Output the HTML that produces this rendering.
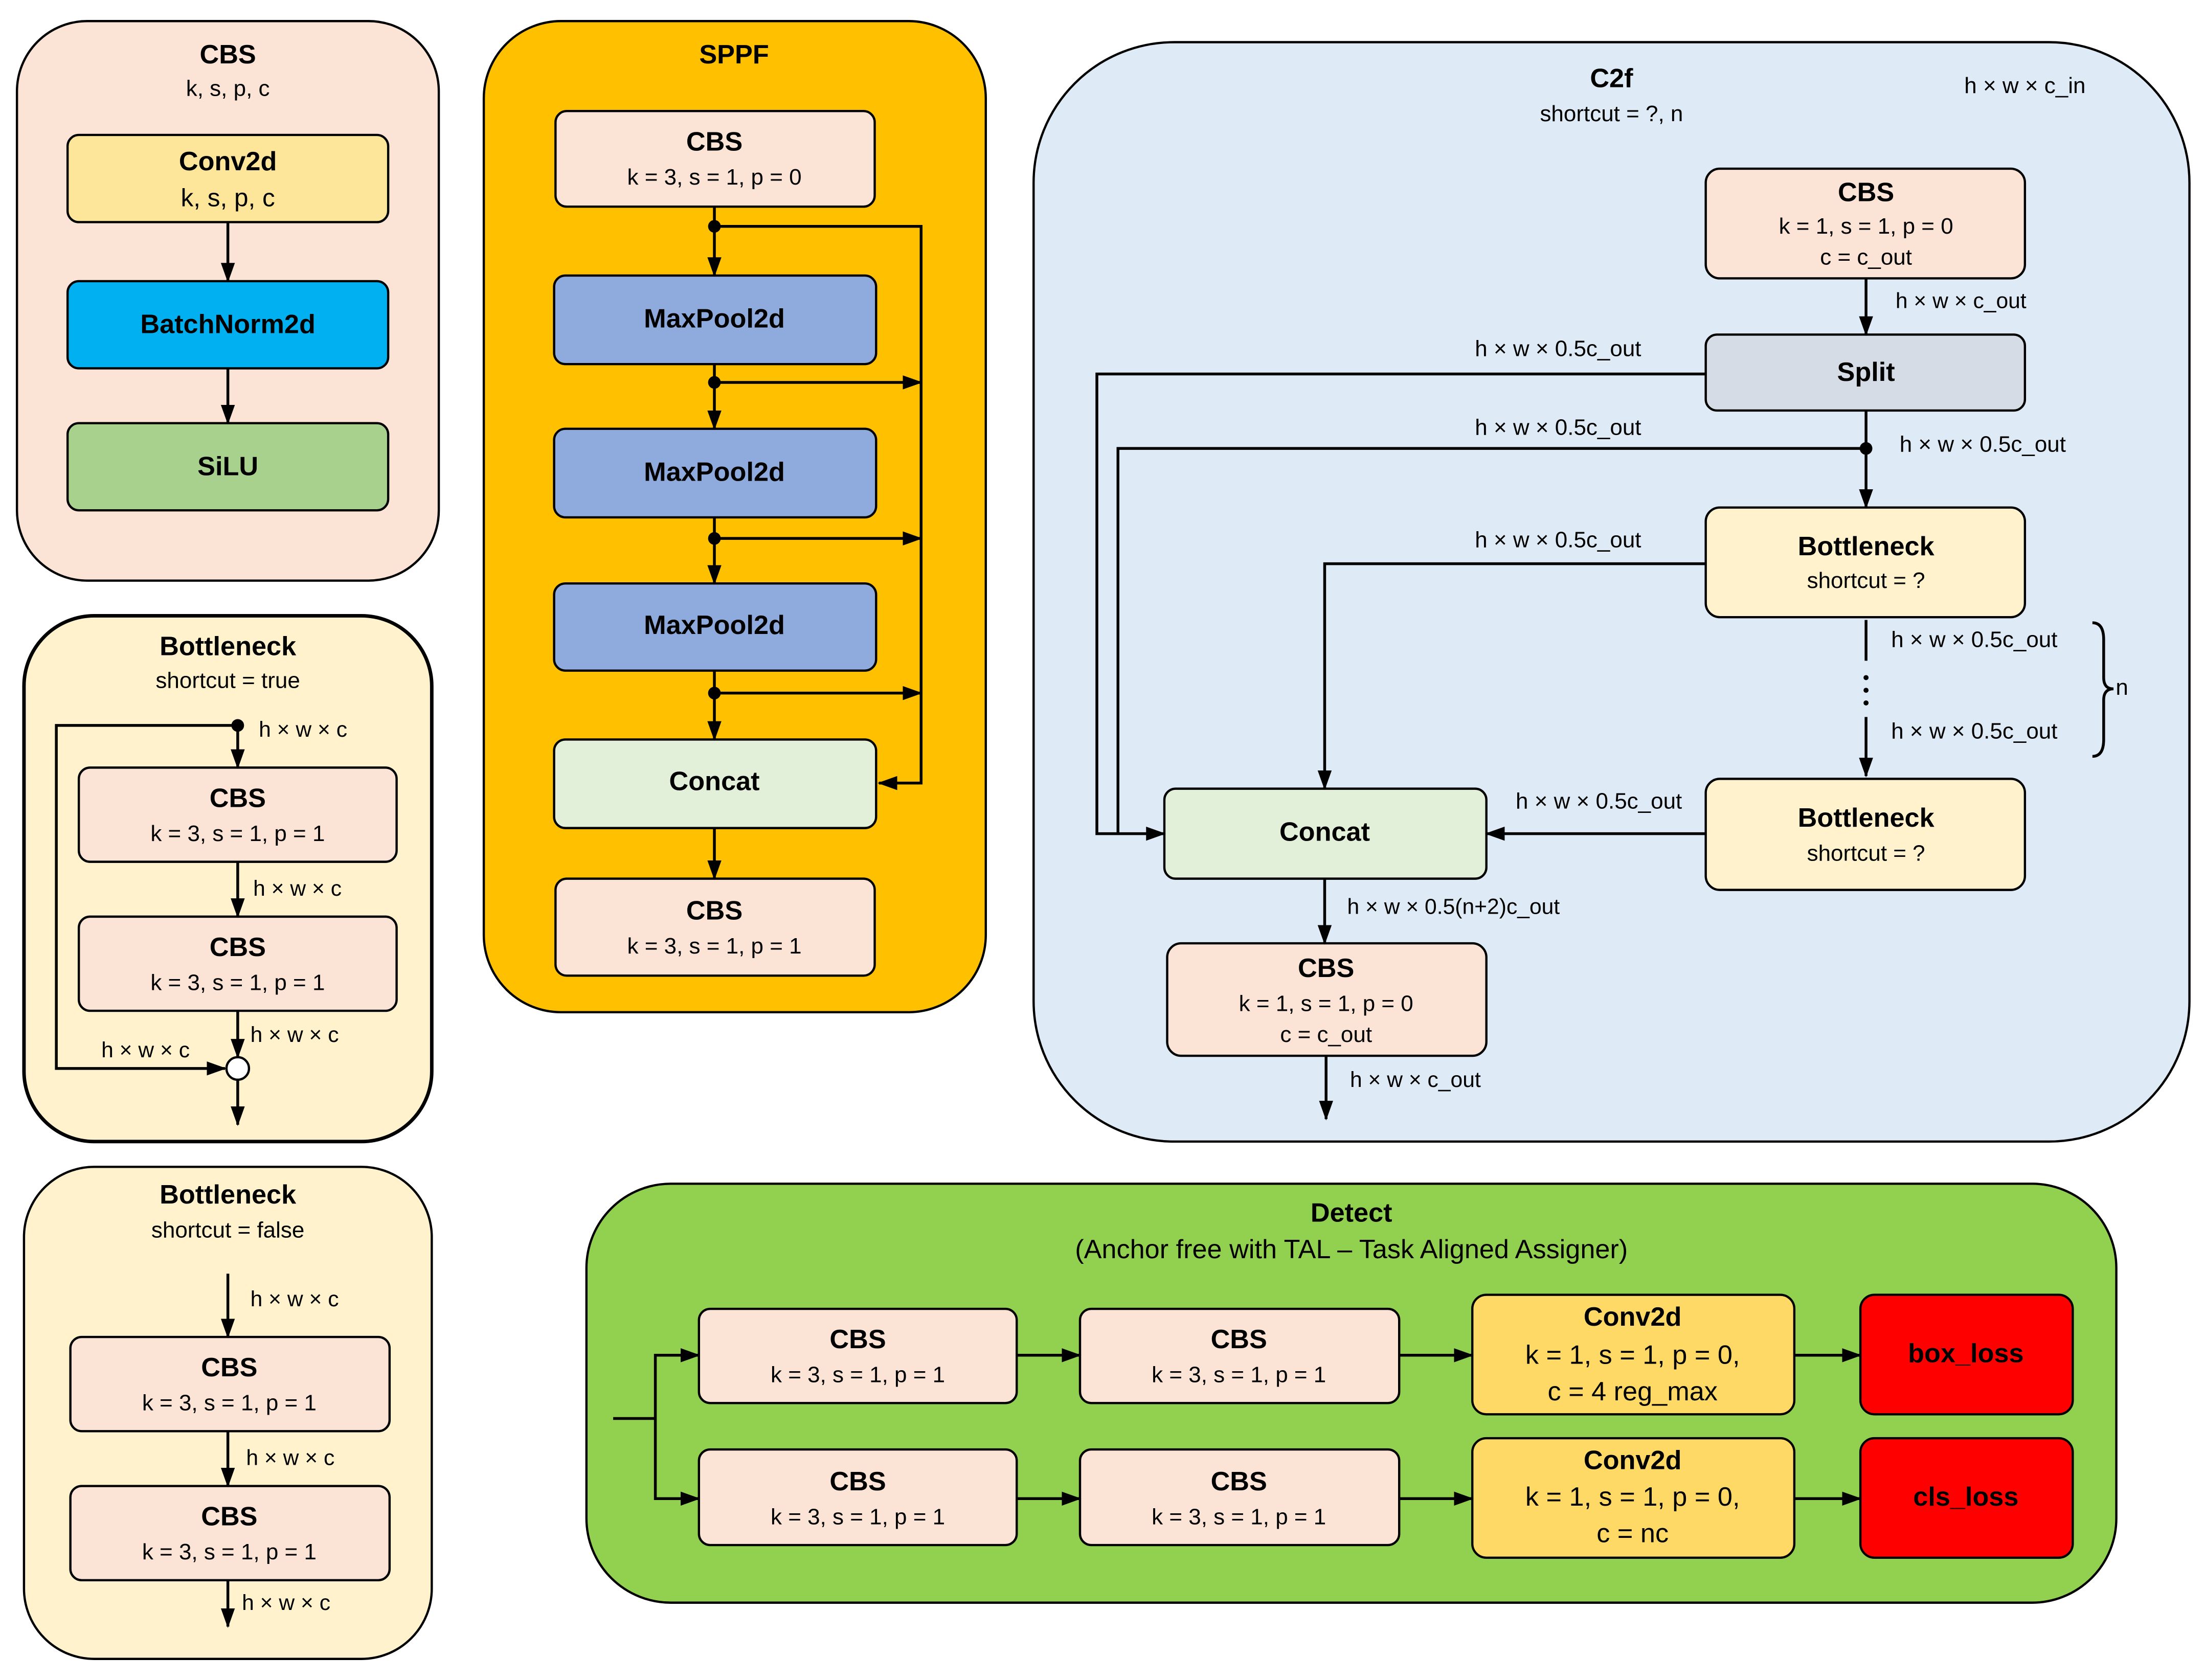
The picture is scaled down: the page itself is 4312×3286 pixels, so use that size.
<!DOCTYPE html>
<html><head><meta charset="utf-8"><style>
html,body{margin:0;padding:0;background:#fff;}
svg{display:block;}
text{font-family:"Liberation Sans",sans-serif;fill:#000;text-anchor:middle;dominant-baseline:middle;}
.b{font-weight:bold;font-size:19px;}
.t{font-size:16px;}
.l{font-size:15.5px;text-anchor:start;}
.box{stroke:#000;stroke-width:1.6;}
.ln{stroke:#000;stroke-width:2;fill:none;}
</style></head><body>
<svg width="4312" height="3286" viewBox="0 0 1568 1195" xmlns="http://www.w3.org/2000/svg">
<defs><marker id="a" markerWidth="10" markerHeight="8" refX="9" refY="4" orient="auto" markerUnits="userSpaceOnUse"><path d="M0,0L10,4L0,8z" fill="#000"/></marker>
<marker id="a2" markerWidth="14" markerHeight="10" refX="13" refY="5" orient="auto" markerUnits="userSpaceOnUse"><path d="M0,0L14,5L0,10z" fill="#000"/></marker></defs>

<!-- CBS panel -->
<rect x="12" y="15" width="300" height="398" rx="50" fill="#fbe3d6" class="box"/>
<text x="162" y="40" class="b">CBS</text><text x="162" y="64" class="t">k, s, p, c</text>
<rect x="48" y="96" width="228" height="62" rx="8" fill="#fde699" class="box"/>
<text x="162" y="116" class="b">Conv2d</text><text x="162" y="142" class="t" style="font-size:18px">k, s, p, c</text>
<rect x="48" y="200" width="228" height="62" rx="8" fill="#00b0f0" class="box"/>
<text x="162" y="232" class="b">BatchNorm2d</text>
<rect x="48" y="301" width="228" height="62" rx="8" fill="#a9d18e" class="box"/>
<text x="162" y="333" class="b">SiLU</text>
<line x1="162" y1="158" x2="162" y2="200" class="ln" marker-end="url(#a2)"/>
<line x1="162" y1="262" x2="162" y2="301" class="ln" marker-end="url(#a2)"/>

<!-- Bottleneck true -->
<rect x="17" y="438" width="290" height="374" rx="50" fill="#fff2cc" class="box" style="stroke-width:2.5"/>
<text x="162" y="461" class="b">Bottleneck</text><text x="162" y="485" class="t">shortcut = true</text>
<rect x="56" y="546" width="226" height="67" rx="8" fill="#fbe3d6" class="box"/>
<text x="169" y="569" class="b">CBS</text><text x="169" y="594" class="t">k = 3, s = 1, p = 1</text>
<rect x="56" y="652" width="226" height="67" rx="8" fill="#fbe3d6" class="box"/>
<text x="169" y="675" class="b">CBS</text><text x="169" y="700" class="t">k = 3, s = 1, p = 1</text>
<circle cx="169" cy="516" r="4.5" fill="#000"/>
<polyline points="169,516 40,516 40,760 160,760" class="ln" marker-end="url(#a2)"/>
<circle cx="169" cy="760" r="8" fill="#fff" stroke="#000" stroke-width="1.6"/>
<line x1="169" y1="516" x2="169" y2="546" class="ln" marker-end="url(#a2)"/>
<line x1="169" y1="613" x2="169" y2="652" class="ln" marker-end="url(#a2)"/>
<line x1="169" y1="719" x2="169" y2="752" class="ln" marker-end="url(#a2)"/>
<line x1="169" y1="768" x2="169" y2="800" class="ln" marker-end="url(#a2)"/>
<text x="184" y="520" class="l">h × w × c</text>
<text x="180" y="633" class="l">h × w × c</text>
<text x="178" y="737" class="l">h × w × c</text>
<text x="72" y="748" class="l">h × w × c</text>

<!-- Bottleneck false -->
<rect x="17" y="830" width="290" height="350" rx="50" fill="#fff2cc" class="box"/>
<text x="162" y="851" class="b">Bottleneck</text><text x="162" y="876" class="t">shortcut = false</text>
<rect x="50" y="951" width="227" height="67" rx="8" fill="#fbe3d6" class="box"/>
<text x="163" y="974" class="b">CBS</text><text x="163" y="999" class="t">k = 3, s = 1, p = 1</text>
<rect x="50" y="1057" width="227" height="67" rx="8" fill="#fbe3d6" class="box"/>
<text x="163" y="1080" class="b">CBS</text><text x="163" y="1105" class="t">k = 3, s = 1, p = 1</text>
<line x1="162" y1="906" x2="162" y2="951" class="ln" marker-end="url(#a2)"/>
<line x1="162" y1="1018" x2="162" y2="1057" class="ln" marker-end="url(#a2)"/>
<line x1="162" y1="1124" x2="162" y2="1157" class="ln" marker-end="url(#a2)"/>
<text x="178" y="925" class="l">h × w × c</text>
<text x="175" y="1038" class="l">h × w × c</text>
<text x="172" y="1141" class="l">h × w × c</text>

<!-- SPPF -->
<rect x="344" y="15" width="357" height="705" rx="55" fill="#ffc000" class="box"/>
<text x="522" y="40" class="b">SPPF</text>
<rect x="395" y="79" width="227" height="68" rx="8" fill="#fbe3d6" class="box"/>
<text x="508" y="102" class="b">CBS</text><text x="508" y="127" class="t">k = 3, s = 1, p = 0</text>
<rect x="394" y="196" width="229" height="63" rx="8" fill="#8faadc" class="box"/>
<text x="508" y="228" class="b">MaxPool2d</text>
<rect x="394" y="305" width="229" height="63" rx="8" fill="#8faadc" class="box"/>
<text x="508" y="337" class="b">MaxPool2d</text>
<rect x="394" y="415" width="229" height="62" rx="8" fill="#8faadc" class="box"/>
<text x="508" y="446" class="b">MaxPool2d</text>
<rect x="394" y="526" width="229" height="63" rx="8" fill="#e2f0d9" class="box"/>
<text x="508" y="557" class="b">Concat</text>
<rect x="395" y="625" width="227" height="69" rx="8" fill="#fbe3d6" class="box"/>
<text x="508" y="649" class="b">CBS</text><text x="508" y="674" class="t">k = 3, s = 1, p = 1</text>
<polyline points="508,161 655,161 655,557 625,557" class="ln" marker-end="url(#a2)"/>
<line x1="508" y1="147" x2="508" y2="196" class="ln" marker-end="url(#a2)"/>
<line x1="508" y1="259" x2="508" y2="305" class="ln" marker-end="url(#a2)"/>
<line x1="508" y1="368" x2="508" y2="415" class="ln" marker-end="url(#a2)"/>
<line x1="508" y1="477" x2="508" y2="526" class="ln" marker-end="url(#a2)"/>
<line x1="508" y1="589" x2="508" y2="625" class="ln" marker-end="url(#a2)"/>
<line x1="508" y1="272" x2="655" y2="272" class="ln" marker-end="url(#a2)"/>
<line x1="508" y1="383" x2="655" y2="383" class="ln" marker-end="url(#a2)"/>
<line x1="508" y1="493" x2="655" y2="493" class="ln" marker-end="url(#a2)"/>
<circle cx="508" cy="161" r="4.5"/><circle cx="508" cy="272" r="4.5"/><circle cx="508" cy="383" r="4.5"/><circle cx="508" cy="493" r="4.5"/>

<!-- C2f -->
<rect x="735" y="30" width="822" height="782" rx="100" fill="#deebf7" class="box"/>
<text x="1146" y="57" class="b">C2f</text><text x="1146" y="82" class="t">shortcut = ?, n</text>
<text x="1440" y="62" class="t">h × w ×  c_in</text>
<rect x="1213" y="120" width="227" height="78" rx="10" fill="#fbe3d6" class="box"/>
<text x="1327" y="138" class="b">CBS</text><text x="1327" y="162" class="t">k = 1, s = 1, p = 0</text><text x="1327" y="184" class="t">c = c_out</text>
<rect x="1213" y="238" width="227" height="54" rx="8" fill="#d6dce5" class="box"/>
<text x="1327" y="266" class="b">Split</text>
<rect x="1213" y="361" width="227" height="78" rx="10" fill="#fff2cc" class="box"/>
<text x="1327" y="390" class="b">Bottleneck</text><text x="1327" y="414" class="t">shortcut = ?</text>
<rect x="1213" y="554" width="227" height="79" rx="10" fill="#fff2cc" class="box"/>
<text x="1327" y="583" class="b">Bottleneck</text><text x="1327" y="608" class="t">shortcut = ?</text>
<rect x="828" y="561" width="229" height="64" rx="8" fill="#e2f0d9" class="box"/>
<text x="942" y="593" class="b">Concat</text>
<rect x="830" y="671" width="227" height="80" rx="10" fill="#fbe3d6" class="box"/>
<text x="943" y="690" class="b">CBS</text><text x="943" y="715" class="t">k = 1, s = 1, p = 0</text><text x="943" y="737" class="t">c = c_out</text>
<line x1="1327" y1="198" x2="1327" y2="238" class="ln" marker-end="url(#a2)"/>
<polyline points="1213,266 780,266 780,593 828,593" class="ln" marker-end="url(#a2)"/>
<polyline points="1327,292 1327,319 795,319 795,593" class="ln"/>
<circle cx="1327" cy="319" r="4.5"/>
<line x1="1327" y1="319" x2="1327" y2="361" class="ln" marker-end="url(#a2)"/>
<polyline points="1213,401 942,401 942,561" class="ln" marker-end="url(#a2)"/>
<line x1="1327" y1="441" x2="1327" y2="470" class="ln"/>
<circle cx="1327" cy="482" r="1.8"/><circle cx="1327" cy="491" r="1.8"/><circle cx="1327" cy="500" r="1.8"/>
<line x1="1327" y1="510" x2="1327" y2="552" class="ln" marker-end="url(#a2)"/>
<line x1="1213" y1="593" x2="1057" y2="593" class="ln" marker-end="url(#a2)"/>
<line x1="942" y1="625" x2="942" y2="671" class="ln" marker-end="url(#a2)"/>
<line x1="943" y1="751" x2="943" y2="796" class="ln" marker-end="url(#a2)"/>
<path d="M1488,443 Q1496,443 1496,455 L1496,482 Q1496,490 1503,490 Q1496,490 1496,498 L1496,526 Q1496,538 1488,538" class="ln"/>
<text x="1509" y="490" class="t">n</text>
<text x="1348" y="215" class="l">h × w ×  c_out</text>
<text x="1108" y="249" class="t">h × w ×  0.5c_out</text>
<text x="1108" y="305" class="t">h × w ×  0.5c_out</text>
<text x="1410" y="317" class="t">h × w ×  0.5c_out</text>
<text x="1108" y="385" class="t">h × w ×  0.5c_out</text>
<text x="1404" y="456" class="t">h × w ×  0.5c_out</text>
<text x="1404" y="521" class="t">h × w ×  0.5c_out</text>
<text x="1137" y="571" class="t">h × w ×  0.5c_out</text>
<text x="958" y="646" class="l">h × w ×  0.5(n+2)c_out</text>
<text x="960" y="769" class="l">h × w × c_out</text>

<!-- Detect -->
<rect x="417" y="842" width="1088" height="298" rx="60" fill="#92d050" class="box"/>
<text x="961" y="864" class="b">Detect</text>
<text x="961" y="890" class="t" style="font-size:19px">(Anchor free with TAL – Task Aligned Assigner)</text>
<polyline points="436,1009 466,1009" class="ln"/>
<polyline points="497,964 466,964 466,1066 497,1066" class="ln"/>
<line x1="466" y1="964" x2="497" y2="964" class="ln" marker-end="url(#a2)"/>
<line x1="466" y1="1066" x2="497" y2="1066" class="ln" marker-end="url(#a2)"/>
<rect x="497" y="931" width="226" height="67" rx="8" fill="#fbe3d6" class="box"/>
<text x="610" y="954" class="b">CBS</text><text x="610" y="979" class="t">k = 3, s = 1, p = 1</text>
<rect x="497" y="1031" width="226" height="68" rx="8" fill="#fbe3d6" class="box"/>
<text x="610" y="1055" class="b">CBS</text><text x="610" y="1080" class="t">k = 3, s = 1, p = 1</text>
<rect x="768" y="931" width="227" height="67" rx="8" fill="#fbe3d6" class="box"/>
<text x="881" y="954" class="b">CBS</text><text x="881" y="979" class="t">k = 3, s = 1, p = 1</text>
<rect x="768" y="1031" width="227" height="68" rx="8" fill="#fbe3d6" class="box"/>
<text x="881" y="1055" class="b">CBS</text><text x="881" y="1080" class="t">k = 3, s = 1, p = 1</text>
<rect x="1047" y="921" width="229" height="85" rx="10" fill="#ffd966" class="box"/>
<text x="1161" y="938" class="b">Conv2d</text><text x="1161" y="965" class="t" style="font-size:19px">k = 1, s = 1, p = 0,</text><text x="1161" y="991" class="t" style="font-size:19px">c = 4 reg_max</text>
<rect x="1047" y="1023" width="229" height="85" rx="10" fill="#ffd966" class="box"/>
<text x="1161" y="1040" class="b">Conv2d</text><text x="1161" y="1066" class="t" style="font-size:19px">k = 1, s = 1, p = 0,</text><text x="1161" y="1092" class="t" style="font-size:19px">c = nc</text>
<rect x="1323" y="921" width="151" height="85" rx="10" fill="#ff0000" class="box"/>
<text x="1398" y="964" class="b">box_loss</text>
<rect x="1323" y="1023" width="151" height="85" rx="10" fill="#ff0000" class="box"/>
<text x="1398" y="1066" class="b">cls_loss</text>
<line x1="723" y1="964" x2="768" y2="964" class="ln" marker-end="url(#a2)"/>
<line x1="723" y1="1066" x2="768" y2="1066" class="ln" marker-end="url(#a2)"/>
<line x1="995" y1="964" x2="1047" y2="964" class="ln" marker-end="url(#a2)"/>
<line x1="995" y1="1066" x2="1047" y2="1066" class="ln" marker-end="url(#a2)"/>
<line x1="1276" y1="964" x2="1323" y2="964" class="ln" marker-end="url(#a2)"/>
<line x1="1276" y1="1066" x2="1323" y2="1066" class="ln" marker-end="url(#a2)"/>
</svg>
</body></html>
